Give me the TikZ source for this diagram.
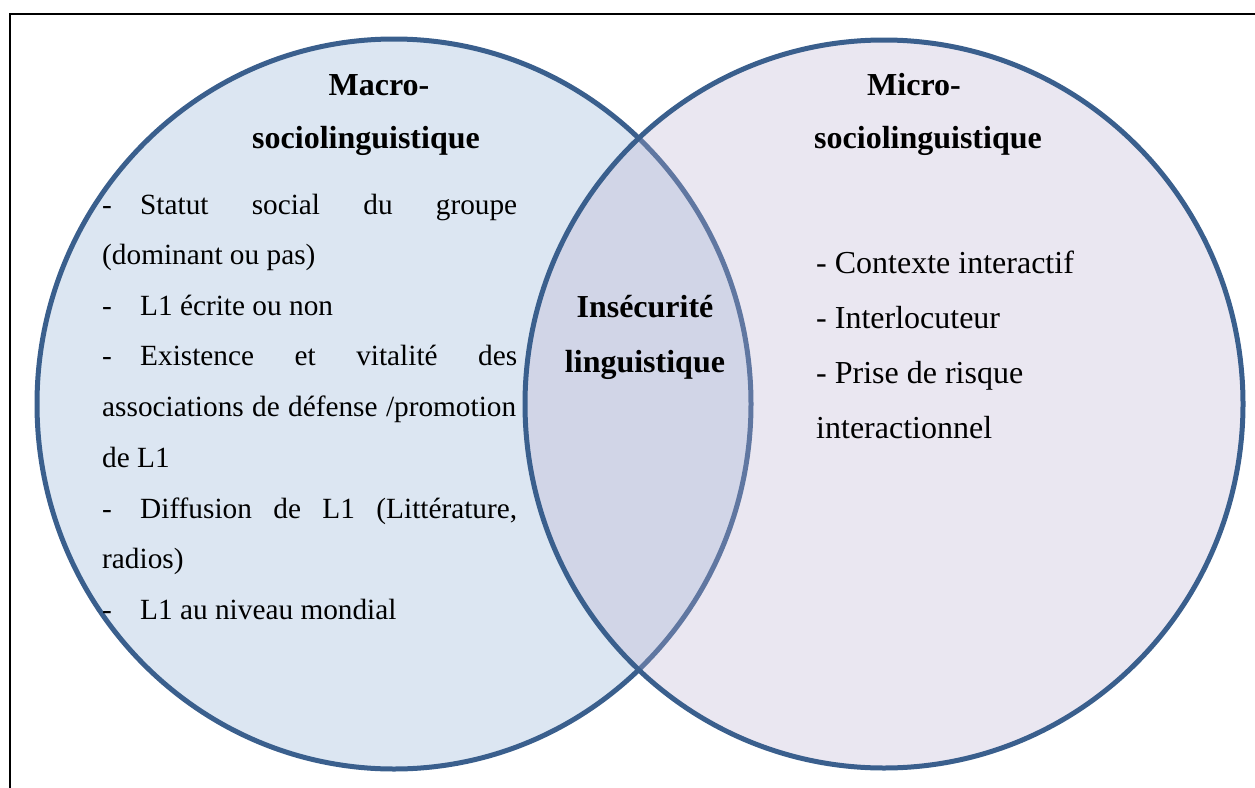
\documentclass[tikz,border=0pt]{standalone}
\usepackage{fontspec}
\setmainfont{Liberation Serif}
\definecolor{leftfill}{HTML}{DCE6F2}
\definecolor{rightfill}{HTML}{B9AFD0}
\definecolor{ringblue}{HTML}{3A5F8D}
\begin{document}
\begin{tikzpicture}[x=1pt,y=-1pt,
  ring/.style={draw=ringblue,line width=5pt},
  listtxt/.style={inner sep=0pt,anchor=base west,font=\fontsize{29.3}{35}\selectfont},
  righttxt/.style={inner sep=0pt,anchor=base west,font=\fontsize{32}{38}\selectfont},
  titletxt/.style={inner sep=0pt,anchor=base,font=\fontsize{32}{38}\selectfont\bfseries}]
\useasboundingbox (0,0) rectangle (1255,787);
\clip (0,0) rectangle (1255,787);
% frame
\draw[line width=2pt,black] (10,800) -- (10,14) -- (1270,14);
% circles
\fill[leftfill] (394,404) ellipse [x radius=357,y radius=365];
\draw[ring] (394,404) ellipse [x radius=357,y radius=365];
\fill[rightfill,fill opacity=0.3] (884,404) ellipse [x radius=359,y radius=364];
\draw[ring] (884,404) ellipse [x radius=359,y radius=364];
% titles
\node[titletxt] (t1) at (379,95) {Macro-};
\node[titletxt] (t2) at (366,148) {sociolinguistique};
\node[titletxt] (t3) at (914,95) {Micro-};
\node[titletxt] (t4) at (928,148) {sociolinguistique};
\node[titletxt] (c1) at (645,317) {Insécurité};
\node[titletxt] (c2) at (645,372) {linguistique};
% left list
\node[listtxt] (d1) at (102,214) {-};
\node[listtxt] (l1) at (140,214) {\makebox[377pt][s]{Statut social du groupe}};
\node[listtxt] (l2) at (102,264) {(dominant ou pas)};
\node[listtxt] (d3) at (102,315) {-};
\node[listtxt] (l3) at (140,315) {L1 écrite ou non};
\node[listtxt] (d4) at (102,365) {-};
\node[listtxt] (l4) at (140,365) {\makebox[377pt][s]{Existence et vitalité des}};
\node[listtxt] (l5) at (102,416) {\makebox[414pt][s]{associations de défense /promotion}};
\node[listtxt] (l6) at (102,467) {de L1};
\node[listtxt] (d7) at (102,518) {-};
\node[listtxt] (l7) at (140,518) {\makebox[377pt][s]{Diffusion de L1 (Littérature,}};
\node[listtxt] (l8) at (102,568) {radios)};
\node[listtxt] (d9) at (102,619) {-};
\node[listtxt] (l9) at (140,619) {L1 au niveau mondial};
% right list
\node[righttxt] (r1) at (816,273) {- Contexte interactif};
\node[righttxt] (r2) at (816,328) {- Interlocuteur};
\node[righttxt] (r3) at (816,383) {- Prise de risque};
\node[righttxt] (r4) at (816,438) {interactionnel};
\end{tikzpicture}
\end{document}
